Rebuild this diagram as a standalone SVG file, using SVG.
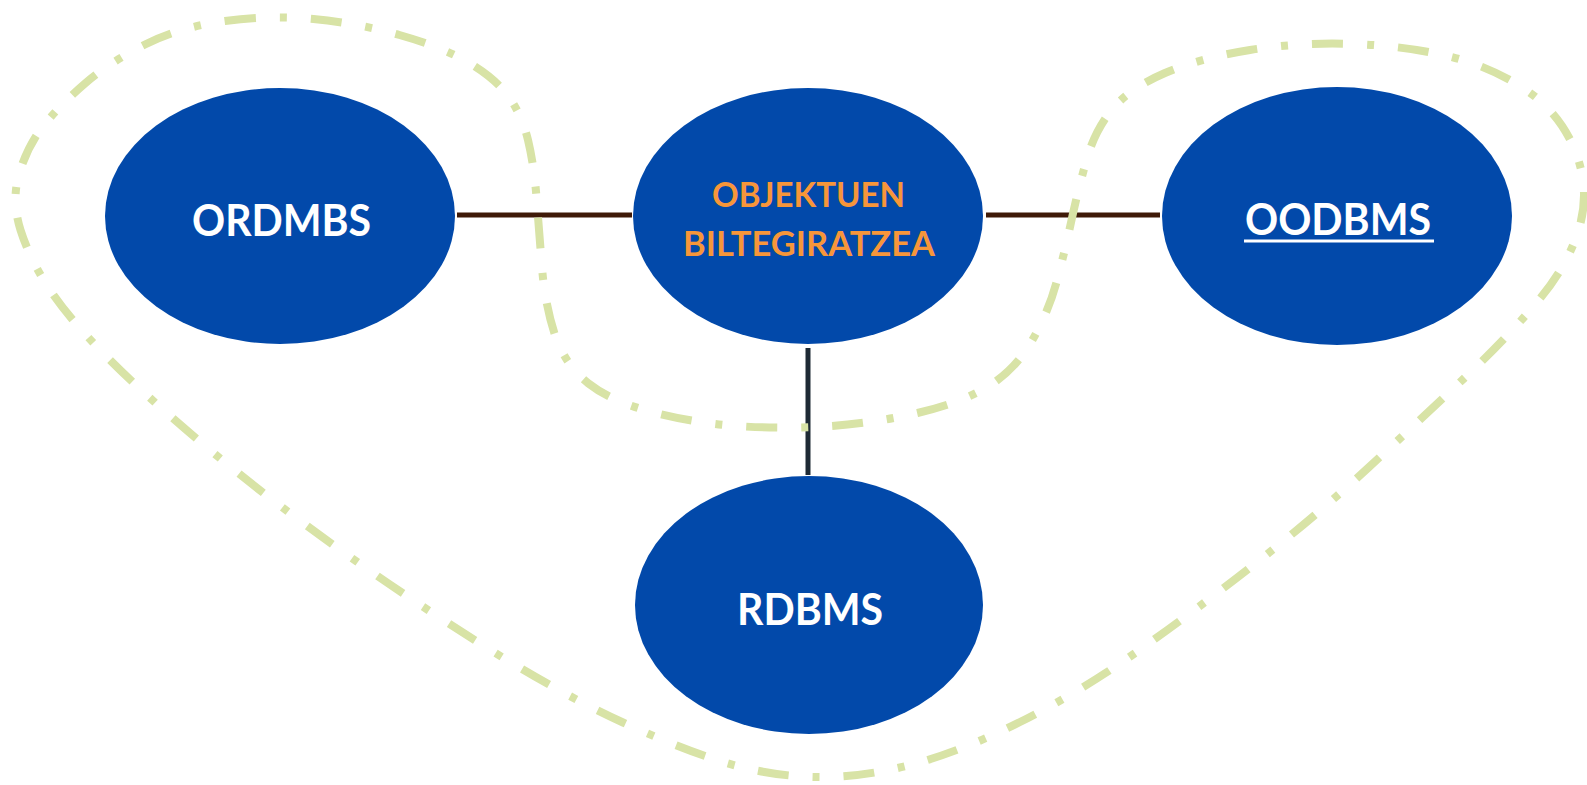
<svg xmlns="http://www.w3.org/2000/svg" width="1587" height="785" viewBox="0 0 1587 785">
  <style>
    .node { fill: #0249AA; }
    .label { font-family: Lato, "Open Sans", "Liberation Sans", sans-serif; font-weight: 700; text-anchor: middle; }
    .white { fill: #FFFFFF; font-size: 43px; }
    .orange { fill: #F7963A; font-size: 34px; }
    .link { fill: none; stroke-width: 5; }
    .boundary { fill: none; stroke: #D8E3A6; stroke-width: 8; stroke-dasharray: 31 24 7 24; }
  </style>
  <rect width="1587" height="785" fill="#FFFFFF"/>

  <!-- connectors between the central node and the three systems -->
  <g id="connectors">
    <line class="link" x1="457" y1="215" x2="632" y2="215" stroke="#3F1A08"/>
    <line class="link" x1="986" y1="215" x2="1160" y2="215" stroke="#3F1A08"/>
    <line class="link" x1="808" y1="348" x2="808" y2="475" stroke="#1E2A35"/>
  </g>

  <!-- dash-dot grouping outline -->
  <g id="grouping">
    <path class="boundary" d="M225,21
      Q270,15 313.5,19 Q357,23 399.5,35 Q442,47 468.5,62.5 Q495,78 508.5,96.5
      Q522,115 528,140 Q534,165 536.5,197.5 Q539,230 542,267.5 Q545,305 555,335
      Q565,365 588.5,383.5 Q612,402 656,413 Q700,424 744,426.5 Q788,429 831,426
      Q874,423 917.5,413 Q961,403 988,386.5 Q1015,370 1031.5,341.5 Q1048,313 1056,284
      Q1064,255 1071,222.5 Q1078,190 1086.5,160 Q1095,130 1112.5,109 Q1130,88 1165,73
      Q1200,58 1250,50 Q1300,42 1353.5,44 Q1407,46 1449.5,56.5 Q1492,67 1526,90
      Q1560,113 1575,150.5 Q1590,188 1580,225 Q1570,262 1540,298.5 Q1510,335 1465,377.5
      Q1420,420 1368,468 Q1316,516 1256,563 Q1196,610 1138,651 Q1080,692 1020,722
      Q960,752 910,765 Q860,778 815,777 Q770,776 726.5,763 Q683,750 623,722.5
      Q563,695 489,649 Q415,603 342.5,551.5 Q270,500 210,450 Q150,400 110,360
      Q70,320 50,290 Q30,260 20.5,230 Q11,200 19.5,172.5 Q28,145 44,125
      Q60,105 85,83.5 Q110,62 145,44.5 Q180,27 225,21 Z"/>
  </g>

  <g id="node-ordmbs">
    <ellipse class="node" cx="280" cy="216" rx="175" ry="128"/>
    <text class="label white" x="281.5" y="236" textLength="179" lengthAdjust="spacingAndGlyphs">ORDMBS</text>
  </g>

  <g id="node-objektuen">
    <ellipse class="node" cx="808" cy="216" rx="175" ry="128"/>
    <text class="label orange" x="808.5" y="207" textLength="193" lengthAdjust="spacingAndGlyphs">OBJEKTUEN</text>
    <text class="label orange" x="809" y="256" textLength="252" lengthAdjust="spacingAndGlyphs">BILTEGIRATZEA</text>
  </g>

  <g id="node-oodbms">
    <ellipse class="node" cx="1337" cy="216" rx="175" ry="129"/>
    <text class="label white" x="1338" y="235" textLength="186" lengthAdjust="spacingAndGlyphs">OODBMS</text>
    <rect x="1244" y="239.5" width="190" height="3" fill="#FFFFFF"/>
  </g>

  <g id="node-rdbms">
    <ellipse class="node" cx="809" cy="605" rx="174" ry="129"/>
    <text class="label white" x="810" y="625" textLength="146" lengthAdjust="spacingAndGlyphs">RDBMS</text>
  </g>
</svg>
